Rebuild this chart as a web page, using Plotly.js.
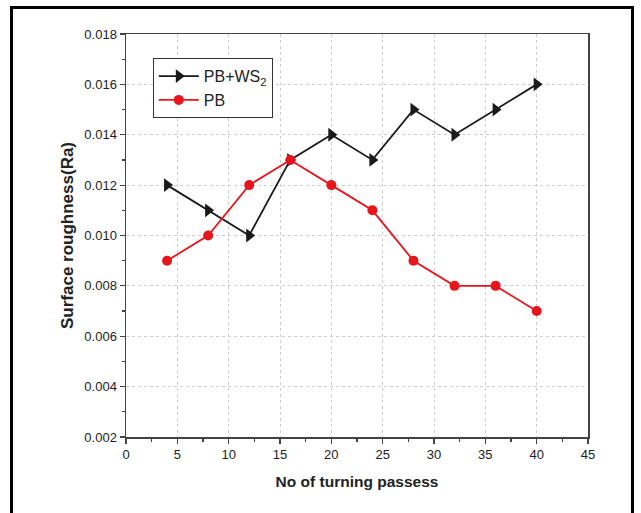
<!DOCTYPE html>
<html>
<head>
<meta charset="utf-8">
<script src="https://cdn.plot.ly/plotly-3.0.1.min.js"></script>
<style>
html,body{margin:0;padding:0;background:#fff;}
#wrap{position:relative;width:641px;height:513px;overflow:hidden;}
#frame{position:absolute;left:10px;top:6px;width:624px;height:520px;border:3px solid #000;box-sizing:border-box;pointer-events:none;z-index:5;}
#chart{position:absolute;left:0;top:0;width:641px;height:513px;}
</style>
</head>
<body>
<div id="wrap"><div id="chart"></div><div id="frame"></div></div>
<script>
const passes = [4, 8, 12, 16, 20, 24, 28, 32, 36, 40];
const pbws2 = [0.012, 0.011, 0.010, 0.013, 0.014, 0.013, 0.015, 0.014, 0.015, 0.016];
const pb = [0.009, 0.010, 0.012, 0.013, 0.012, 0.011, 0.009, 0.008, 0.008, 0.007];
const seriesNames = ['PB+WS<sub>2</sub>', 'PB'];

const traces = [
  {x: passes, y: pbws2, name: seriesNames[0], type: 'scatter', mode: 'lines+markers',
   line: {color: '#1a1a1a', width: 1.8},
   marker: {symbol: 'triangle-right', size: 12, color: '#1a1a1a'}},
  {x: passes, y: pb, name: seriesNames[1], type: 'scatter', mode: 'lines+markers',
   line: {color: '#e8151d', width: 1.8},
   marker: {symbol: 'circle', size: 10, color: '#e8151d'}}
];

const FONT = 'Liberation Sans, Arial, sans-serif';
const axisCommon = {
  showline: true, linecolor: '#444', linewidth: 1.5, mirror: true,
  ticks: 'outside', ticklen: 5, tickwidth: 1.2, tickcolor: '#444',
  showgrid: true, gridcolor: '#cfcfcf', griddash: 'dot', gridwidth: 1,
  zeroline: false,
  tickfont: {family: FONT, size: 13, color: '#222'}
};

const layout = {
  width: 641, height: 513,
  margin: {l: 126, r: 53, t: 34, b: 76},
  paper_bgcolor: '#fff', plot_bgcolor: '#fff',
  showlegend: true,
  xaxis: Object.assign({}, axisCommon, {
    range: [0, 45], dtick: 5, tick0: 0,
    minor: {dtick: 2.5, ticklen: 3, tickcolor: '#444', ticks: 'outside', showgrid: false},
    title: {text: 'No of turning passess', standoff: 15,
      font: {family: FONT, size: 15.5, color: '#222', weight: 'bold'}}
  }),
  yaxis: Object.assign({}, axisCommon, {
    range: [0.002, 0.018], dtick: 0.002, tick0: 0.002, tickformat: '.3f',
    minor: {dtick: 0.001, ticklen: 3, tickcolor: '#444', ticks: 'outside', showgrid: false},
    title: {text: 'Surface roughness(Ra)', standoff: 6,
      font: {family: FONT, size: 17, color: '#222', weight: 'bold'}}
  }),
  legend: {
    x: 0.058, y: 0.94, xanchor: 'left', yanchor: 'top',
    bgcolor: '#fff', bordercolor: '#333', borderwidth: 1,
    font: {family: FONT, size: 16, color: '#222'},
    itemwidth: 40, tracegroupgap: 0
  }
};

Plotly.newPlot('chart', traces, layout, {displayModeBar: false, staticPlot: true});
</script>
</body>
</html>
